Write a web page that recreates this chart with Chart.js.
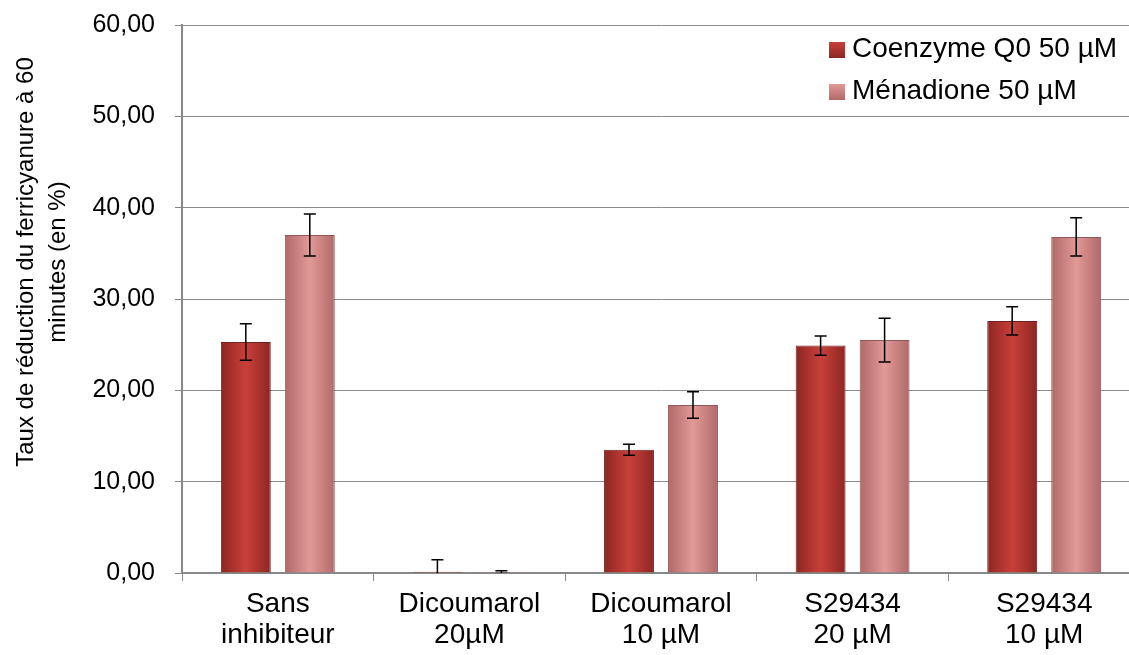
<!DOCTYPE html>
<html>
<head>
<meta charset="utf-8">
<script src="https://cdn.jsdelivr.net/npm/chart.js@4/dist/chart.umd.min.js"></script>
<style>
  html, body { margin: 0; padding: 0; background: #fff; overflow: hidden; }
  #wrap { position: relative; width: 1160px; height: 655px; }
  #legend { position: absolute; left: 829px; top: 27px; font-family: "Liberation Sans", Arial, sans-serif; font-size: 28px; color: #000; }
  #legend div { height: 42px; line-height: 42px; white-space: nowrap; }
  #legend span.sw { display: inline-block; width: 16px; height: 16px; margin-right: 7px; vertical-align: -1px; }
</style>
</head>
<body>
<div id="wrap">
  <canvas id="chart" width="1160" height="655"></canvas>
  <div id="legend"></div>
</div>
<script>
// data
const categories = [['Sans', 'inhibiteur'], ['Dicoumarol', '20µM'], ['Dicoumarol', '10 µM'], ['S29434', '20 µM'], ['S29434', '10 µM']];
const coenzymeValues = [25.3, 0.15, 13.5, 24.9, 27.6];
const coenzymeErrors = [2.0, 1.3, 0.6, 1.05, 1.55];
const menadioneValues = [37.0, 0.1, 18.4, 25.5, 36.8];
const menadioneErrors = [2.3, 0.15, 1.45, 2.4, 2.1];
const seriesNames = ['Coenzyme Q0 50 µM', 'Ménadione 50 µM'];
const yTicks = [0, 10, 20, 30, 40, 50, 60];
const yTitle = ['Taux de réduction du ferricyanure à 60', 'minutes (en %)'];

const FONT = '"Liberation Sans", Arial, sans-serif';
const redStops = ['#8e2622', '#c8403a', '#8e2622'];
const pinkStops = ['#b06868', '#e29a99', '#b06868'];

function barFill(stops) {
    return function (ctx) {
        const el = ctx.element;
        if (!el || !el.width) return stops[1];
        const g = ctx.chart.ctx.createLinearGradient(el.x - el.width / 2, 0, el.x + el.width / 2, 0);
        g.addColorStop(0, stops[0]);
        g.addColorStop(0.5, stops[1]);
        g.addColorStop(1, stops[2]);
        return g;
    };
}

// error bars
const errorBars = {
    id: 'errorBars',
    afterDatasetsDraw(chart) {
        const c = chart.ctx;
        const y = chart.scales.y;
        const area = chart.chartArea;
        c.save();
        c.beginPath();
        c.rect(area.left, area.top, area.right - area.left, area.bottom - area.top);
        c.clip();
        c.strokeStyle = '#000';
        c.lineWidth = 1.5;
        chart.data.datasets.forEach((ds, i) => {
            chart.getDatasetMeta(i).data.forEach((bar, j) => {
                const v = ds.data[j], e = ds.errors[j];
                const top = y.getPixelForValue(v + e);
                const bot = y.getPixelForValue(v - e);
                c.beginPath();
                c.moveTo(bar.x, top); c.lineTo(bar.x, bot);
                c.moveTo(bar.x - 6, top); c.lineTo(bar.x + 6, top);
                c.moveTo(bar.x - 6, bot); c.lineTo(bar.x + 6, bot);
                c.stroke();
            });
        });
        c.restore();
    }
};

// rotated y-axis title
const yTitlePlugin = {
    id: 'yTitle',
    afterDraw(chart) {
        const c = chart.ctx;
        c.save();
        c.font = '24px ' + FONT;
        c.fillStyle = '#000';
        c.textAlign = 'center';
        c.textBaseline = 'middle';
        c.translate(0, 262);
        c.rotate(-Math.PI / 2);
        c.fillText(yTitle[0], 0, 26);
        c.fillText(yTitle[1], 0, 58);
        c.restore();
    }
};

const chart = new Chart(document.getElementById('chart').getContext('2d'), {
    type: 'bar',
    data: {
        labels: categories,
        datasets: [{
            label: seriesNames[0],
            data: coenzymeValues,
            errors: coenzymeErrors,
            backgroundColor: barFill(redStops),
            borderColor: '#6f2320',
            borderWidth: 1
        }, {
            label: seriesNames[1],
            data: menadioneValues,
            errors: menadioneErrors,
            backgroundColor: barFill(pinkStops),
            borderColor: '#8f5a5a',
            borderWidth: 1
        }]
    },
    options: {
        responsive: false,
        animation: false,
        devicePixelRatio: 1,
        layout: { padding: { left: 0, right: 20, top: 25, bottom: 0 } },
        datasets: { bar: { categoryPercentage: 0.668, barPercentage: 0.78 } },
        plugins: { legend: { display: false }, tooltip: { enabled: false } },
        scales: {
            x: {
                grid: { drawOnChartArea: false, drawTicks: true, tickLength: 8, color: '#888', offset: true },
                border: { color: '#888', width: 2 },
                ticks: { color: '#000', font: { family: FONT, size: 28, lineHeight: 1.1 }, padding: 8, maxRotation: 0, autoSkip: false },
                afterFit(scale) { scale.height = 82; }
            },
            y: {
                min: yTicks[0],
                max: yTicks[yTicks.length - 1],
                afterBuildTicks(scale) { scale.ticks = yTicks.map(v => ({ value: v })); },
                grid: { color: '#8c8c8c', lineWidth: 1, drawTicks: true, tickLength: 7, tickColor: '#888' },
                border: { color: '#888', width: 2 },
                ticks: {
                    color: '#000',
                    font: { family: FONT, size: 25 },
                    padding: 20,
                    callback: v => v.toFixed(2).replace('.', ',')
                },
                afterFit(scale) { scale.width = 182; scale.paddingTop = 0; scale.paddingBottom = 0; }
            }
        }
    },
    plugins: [errorBars, yTitlePlugin]
});
chart.update();

// legend inside the plot area
const legend = document.getElementById('legend');
[redStops, pinkStops].forEach((stops, i) => {
    const row = document.createElement('div');
    const sw = document.createElement('span');
    sw.className = 'sw';
    sw.style.background = 'linear-gradient(' + stops[1] + ', ' + stops[0] + ')';
    row.appendChild(sw);
    row.appendChild(document.createTextNode(seriesNames[i]));
    legend.appendChild(row);
});
</script>
</body>
</html>
